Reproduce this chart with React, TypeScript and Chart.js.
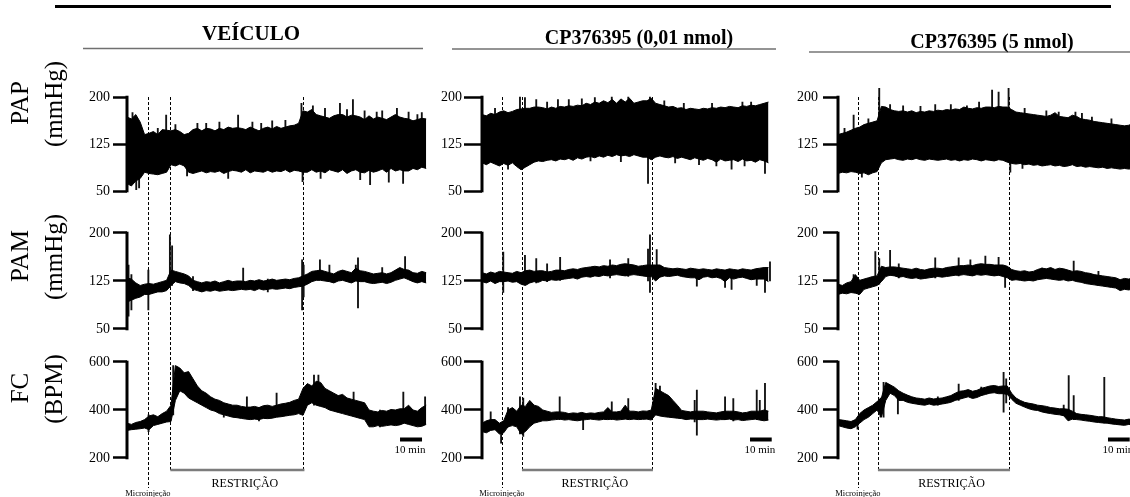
import React, { useEffect, useRef } from "react";
import { Chart, registerables } from "chart.js";

Chart.register(...registerables);

const FONT = '"Liberation Serif", "Times New Roman", Times, serif';

// ---------- data ----------
// sampling times of the envelopes (minutes from start of record)
const SAMPLE_MIN = [0,2,4,6,8,10,12,14,16,18,20,22,24,26,28,30,32,34,36,38,40,42,44,46,48,50,52,54,56,58,60,62,64,66,68,70,72,74,76,78,80,82,84,86,88,90,92,94,96,98,100,102,104,106,108,110,112,114,116,118,120,122,124,126,128,130,132,134,136];

const HEADERS = ["VEÍCULO", "CP376395 (0,01 nmol)", "CP376395 (5 nmol)"];
const ROW_LABELS = [["PAP", "(mmHg)"], ["PAM", "(mmHg)"], ["FC", "(BPM)"]];
const PRESSURE_TICKS = [50, 125, 200];
const FC_TICKS = [200, 400, 600];
const MICROINJECTION_MIN = [9.5, 9.2, 9.2];
const RESTRAINT_START_MIN = [19.7, 18.4, 18.4];
const RESTRAINT_END_MIN = [80.2, 78.3, 78.8];
const SCALE_BAR_START_MIN = [124.1, 123.5, 124.4];
const SCALE_BAR_LENGTH_MIN = 10;
const MICRO_TEXT = "Microinjeção";
const RESTRAINT_TEXT = "RESTRIÇÃO";
const SCALE_TEXT = "10 min";

// VEÍCULO — envelope (upper / lower) and spikes [min, low, high]
const VEH_PAP_HI = [168,165,172,160,140,142,145,140,148,147, 146,148,145,140,142,148,150,146,150,149, 146,150,148,152,150,151,150,148,152,149, 146,150,152,149,153,150,152,154,155,158, 178,176,180,172,170,168,166,170,172,172, 168,171,170,168,164,170,165,168,166,164, 168,172,168,166,165,162,164,166,165];
const VEH_PAP_LO = [62,58,66,70,80,78,77,76,78,80, 92,90,93,90,80,78,80,82,79,81, 80,82,78,81,83,82,80,84,79,82, 81,80,83,80,82,81,84,80,83,82, 80,80,84,80,82,79,84,82,80,84, 78,82,84,80,79,83,80,82,85,80, 86,82,84,82,82,86,84,88,86];
const VEH_PAP_SPIKES = [[2.5,135,175],[4.2,52,90],[5.5,55,88],[14,135,150],[17.8,140,171],[22,145,156],[27.3,74,100],[32,146,158],[36,145,158],[42,146,160],[46,70,82],[50.5,145,171],[57,148,160],[61,145,158],[66,149,162],[72,150,163],[79.3,150,190],[79.8,65,90],[84.5,170,186],[88,70,82],[90,165,182],[96.8,165,190],[100,166,180],[102.7,165,196],[106,68,80],[108,160,178],[110.5,60,85],[113.5,160,176],[116,162,178],[119,64,84],[122.7,160,182],[125.5,62,85],[128,162,176],[132,158,172],[134,162,175]];
const VEH_PAM_HI = [130,128,122,118,120,121,120,122,124,126, 142,140,138,136,133,126,124,122,124,123, 125,122,124,126,124,125,125,124,126,125, 127,125,126,128,126,127,128,127,129,130, 133,136,140,141,142,140,138,136,140,142, 140,138,145,141,140,138,136,137,138,136, 138,142,146,143,142,138,137,140,138];
const VEH_PAM_LO = [92,95,98,100,104,104,106,108,108,110, 118,124,122,121,118,112,110,108,110,109, 111,109,110,111,110,111,112,111,112,110, 113,111,112,113,112,113,114,113,115,116, 117,120,124,126,126,125,124,122,125,126, 124,122,125,124,124,122,121,122,123,121, 123,126,128,130,127,124,122,124,122];
const VEH_PAM_SPIKES = [[0.7,70,150],[2,80,135],[9.7,80,142],[19.5,115,197],[20.5,118,180],[30,110,132],[52.8,118,145],[64,108,128],[79.6,80,158],[80.3,100,150],[87.7,130,158],[92,128,150],[104,130,150],[105,83,161],[116,128,146],[126.4,130,163]];
const VEH_FC_HI = [345,340,348,352,360,375,380,372,385,395, 420,585,575,555,560,530,500,480,470,455, 445,440,430,425,420,420,415,412,412,415, 410,418,420,415,420,425,428,432,440,445, 490,510,500,520,515,490,480,470,460,465, 450,445,440,435,430,400,395,392,398,395, 402,400,405,405,420,400,395,410,420];
const VEH_FC_LO = [315,318,320,322,325,318,335,340,345,350, 352,440,480,470,450,440,430,420,410,400, 395,385,380,375,370,368,365,362,360,362, 360,365,364,366,370,372,375,378,380,385, 378,420,430,420,415,410,400,395,390,385, 380,375,370,365,360,330,330,335,332,335, 338,335,338,345,340,335,330,332,340];
const VEH_FC_SPIKES = [[9.8,310,380],[21,380,585],[44,370,420],[54.5,380,455],[60,355,410],[68,390,470],[85,420,545],[87,420,545],[103,390,475],[115,330,400],[125.6,350,475],[135.5,350,455]];

// CP376395 (0,01 nmol)
const LOW_PAP_HI = [172,170,174,172,176,178,175,177,180,181, 182,182,184,184,183,181,184,182,185,184, 186,185,187,186,190,188,192,190,194,191, 196,190,197,192,198,190,192,194,194,198, 190,188,186,184,185,182,183,180,182,181, 180,182,181,183,182,184,183,185,184,183, 186,185,187,186,188,190,192];
const LOW_PAP_LO = [95,92,96,93,90,94,91,95,89,84, 88,92,96,98,97,99,100,98,101,100, 102,99,103,101,104,105,103,106,104,107, 105,108,106,107,105,108,106,104,104,100, 104,106,104,103,105,102,104,102,100,103, 101,99,102,100,96,101,98,99,100,97, 101,98,99,96,100,98,95];
const LOW_PAP_SPIKES = [[6,170,182],[12,85,95],[17.5,175,200],[19.8,175,199],[25,178,196],[30,180,192],[35,180,196],[40,184,196],[46,183,197],[50,98,106],[52,188,199],[59.8,188,200],[64,97,108],[67.4,190,200],[76.5,62,105],[77.4,190,200],[84,183,194],[89,95,106],[93,180,190],[100,92,103],[106,180,190],[108,90,100],[115,85,100],[120,182,192],[121,90,102],[124,183,192],[130.4,78,100]];
const LOW_PAM_HI = [138,136,139,137,140,139,138,137,140,138, 141,142,140,141,141,139,140,142,142,141, 143,144,143,145,146,147,148,147,149,148, 150,149,151,152,151,150,148,149,150,150, 150,150,146,145,144,145,144,143,145,144, 143,144,143,142,144,143,142,144,143,142, 144,143,142,144,145,146,146];
const LOW_PAM_LO = [124,122,125,121,124,124,125,123,124,120, 118,122,124,123,126,125,127,126,127,128, 129,130,128,131,132,131,133,132,134,133, 134,135,134,133,134,135,134,133,132,132, 125,131,133,132,133,134,132,131,130,130, 127,131,132,130,131,129,124,130,128,130, 131,129,127,128,128,128,124];
const LOW_PAM_SPIKES = [[9.8,107,170],[19.8,120,165],[25,122,160],[30,124,152],[36,126,162],[59,130,158],[67.4,132,160],[76.5,125,175],[77.4,107,197],[80.5,128,174],[99,117,138],[112,115,135],[115,112,135],[126.6,118,140],[130.4,107,135],[132.7,125,155]];
const LOW_FC_HI = [345,355,360,360,345,355,400,410,395,420, 415,440,420,415,400,395,390,392,392,390, 385,388,386,390,385,388,386,390,392,410, 392,392,395,420,395,395,392,396,395,400, 490,480,470,460,440,420,398,395,392,395, 395,395,392,390,388,392,395,395,395,392, 388,390,395,395,395,400,395];
const LOW_FC_LO = [310,305,315,318,300,305,330,335,330,300, 310,330,345,350,355,355,358,360,362,358, 360,357,355,358,360,362,360,358,361,360, 362,358,360,362,360,362,360,361,362,358, 380,375,372,370,368,366,364,360,362,362, 360,360,362,360,358,360,360,362,358,360, 356,358,360,362,358,355,358];
const LOW_FC_SPIKES = [[4,320,392],[8.8,262,330],[12,330,410],[17.5,300,455],[19,290,450],[35.8,360,455],[46.6,318,370],[59.8,360,434],[67.4,360,448],[80,380,511],[82,380,500],[98,350,440],[99,295,483],[112,360,455],[115.8,355,448],[126.6,360,483],[128,360,440],[130.4,360,511]];

// CP376395 (5 nmol)
const HIGH_PAP_HI = [140,142,144,147,150,152,156,158,160,162, 185,184,180,178,177,178,176,178,175,177, 176,178,177,179,178,180,179,181,180,184, 182,181,183,182,184,184,183,185,184,184, 180,176,175,174,173,172,171,170,169,171, 175,169,168,167,171,169,165,164,163,161, 160,159,158,157,156,155,154,155,158];
const HIGH_PAP_LO = [78,80,79,81,80,78,79,76,79,81, 95,100,101,102,100,99,101,100,102,100, 99,101,100,99,100,101,99,100,98,100, 99,101,100,98,100,99,98,100,99,96, 94,93,94,92,93,91,92,90,91,92, 90,91,89,90,92,89,90,88,89,88, 87,88,86,87,86,85,86,85,86];
const HIGH_PAP_SPIKES = [[3,140,150],[7.2,145,171],[11,72,80],[14,155,165],[19,160,217],[24,178,188],[30,175,186],[38,175,185],[44.8,176,188],[52,176,188],[59.4,178,186],[65,178,192],[71,180,211],[74,180,208],[78.6,178,217],[79.4,80,100],[85,86,94],[86,172,182],[96,168,178],[101.7,168,176],[109.4,165,176],[112.4,162,174],[117,160,168],[126,154,165]];
const HIGH_PAM_HI = [120,118,122,124,135,126,128,130,132,133, 148,146,147,147,146,145,144,143,145,143, 142,144,145,145,144,146,147,148,149,149, 150,149,151,152,151,151,150,150,150,148, 143,141,140,141,139,140,143,145,144,146, 143,145,144,142,140,141,140,138,137,135, 134,133,132,131,130,127,129,128,130];
const HIGH_PAM_LO = [104,106,105,107,106,104,112,114,116,118, 124,132,134,133,131,132,130,129,130,128, 129,130,131,132,131,132,133,134,134,135, 134,133,135,134,135,134,133,134,132,130, 126,127,126,125,126,125,127,128,129,128, 127,126,127,125,126,124,123,121,120,119, 118,117,116,115,114,110,112,111,113];
const HIGH_PAM_SPIKES = [[7.2,110,135],[17.2,118,171],[19,120,160],[24,134,173],[28,130,152],[44.8,130,161],[55.6,133,161],[61,134,158],[67.9,135,164],[74,134,162],[77,115,140],[94,130,145],[108.6,128,156],[120,118,140]];
const HIGH_FC_HI = [360,358,355,352,360,385,400,410,420,435, 450,515,505,495,480,470,462,455,450,448, 445,450,446,448,450,455,460,470,478,480, 485,478,482,490,495,500,502,498,500,500, 470,450,440,432,428,425,420,418,415,410, 408,405,405,403,395,385,382,380,378,375, 372,372,368,365,362,360,358,362,360];
const HIGH_FC_LO = [335,330,325,322,330,345,360,370,385,400, 370,440,470,460,440,440,432,428,425,422, 420,425,420,422,425,428,432,440,445,450, 455,448,452,460,465,470,472,468,468,465, 445,428,420,412,405,400,398,392,388,385, 382,380,376,355,362,360,358,355,353,350, 348,346,345,342,340,338,336,340,338];
const HIGH_FC_SPIKES = [[9,320,360],[19.6,370,450],[21,370,515],[27.6,384,460],[46,420,455],[55.6,440,508],[66,460,495],[76.3,391,557],[77.5,430,530],[104,376,420],[106.3,360,543],[108.6,360,460],[122.7,346,536]];

const SERIES: any[] = [
  [[VEH_PAP_HI, VEH_PAP_LO, VEH_PAP_SPIKES], [VEH_PAM_HI, VEH_PAM_LO, VEH_PAM_SPIKES], [VEH_FC_HI, VEH_FC_LO, VEH_FC_SPIKES]],
  [[LOW_PAP_HI, LOW_PAP_LO, LOW_PAP_SPIKES], [LOW_PAM_HI, LOW_PAM_LO, LOW_PAM_SPIKES], [LOW_FC_HI, LOW_FC_LO, LOW_FC_SPIKES]],
  [[HIGH_PAP_HI, HIGH_PAP_LO, HIGH_PAP_SPIKES], [HIGH_PAM_HI, HIGH_PAM_LO, HIGH_PAM_SPIKES], [HIGH_FC_HI, HIGH_FC_LO, HIGH_FC_SPIKES]],
];

// ---------- layout ----------
const H = 497;
const PAD_TOP = 88;
const PAD_BOTTOM = 27;
const BRACKET_Y = 470;
const MICRO_LINE_BOTTOM = 488;

const ROWS = [
  { id: "yPAP", min: 16.5, max: 214.4, stackWeight: 124, weight: 3, ticks: PRESSURE_TICKS, labelY: 103 },
  { id: "yPAM", min: 25, max: 232.8, stackWeight: 133, weight: 2, ticks: PRESSURE_TICKS, labelY: 256 },
  { id: "yFC", min: 150, max: 670.8, stackWeight: 125, weight: 1, ticks: FC_TICKS, labelY: 388 },
];

const COLS = [
  { left: 0, width: 440, axisW: 127, padR: 9.4, xMax: 138, tickLen: 14, tickPad: 3,
    head: { cx: 251, base: 40, size: 21, x1: 83, x2: 423, y: 48.5, color: "#707070", lw: 1.5 } },
  { left: 440, width: 345, axisW: 42, padR: 12.2, xMax: 134, tickLen: 18, tickPad: 2,
    head: { cx: 199, base: 44, size: 20, x1: 12, x2: 336, y: 49, color: "#707070", lw: 1.5 } },
  { left: 785, width: 360, axisW: 53, padR: 7.5, xMax: 138, tickLen: 15, tickPad: 5,
    head: { cx: 207, base: 48, size: 20, x1: 24, x2: 360, y: 52, color: "#333333", lw: 1.2 } },
];

function makeDecor(ci: number) {
  const c = COLS[ci];
  return {
    id: "decor" + ci,
    beforeDatasetsDraw(chart: any) {
      const { ctx, scales } = chart;
      const x = scales.x;
      const yTop = scales.yPAP.getPixelForValue(PRESSURE_TICKS[PRESSURE_TICKS.length - 1]);
      const lines = [
        [MICROINJECTION_MIN[ci], MICRO_LINE_BOTTOM],
        [RESTRAINT_START_MIN[ci], BRACKET_Y],
        [RESTRAINT_END_MIN[ci], BRACKET_Y],
      ];
      ctx.save();
      ctx.strokeStyle = "#000";
      ctx.lineWidth = 1;
      ctx.setLineDash([3, 2]);
      for (const [t, yb] of lines) {
        const px = Math.round(x.getPixelForValue(t)) + 0.5;
        ctx.beginPath();
        ctx.moveTo(px, yTop);
        ctx.lineTo(px, yb);
        ctx.stroke();
      }
      ctx.restore();
    },
    afterDatasetsDraw(chart: any) {
      const { ctx, chartArea, scales } = chart;
      ctx.save();
      ctx.strokeStyle = "#000";
      ctx.lineWidth = 3;
      for (const r of ROWS) {
        const s = scales[r.id];
        const top = s.getPixelForValue(r.ticks[r.ticks.length - 1]);
        const bot = s.getPixelForValue(r.ticks[0]);
        ctx.beginPath();
        ctx.moveTo(chartArea.left, top - 1.3);
        ctx.lineTo(chartArea.left, bot + 1.3);
        ctx.stroke();
      }
      ctx.restore();
    },
    afterDraw(chart: any) {
      const { ctx, scales } = chart;
      const x = scales.x;
      ctx.save();
      ctx.fillStyle = "#000";
      ctx.font = `bold ${c.head.size}px ${FONT}`;
      ctx.textAlign = "center";
      ctx.textBaseline = "alphabetic";
      ctx.fillText(HEADERS[ci], c.head.cx, c.head.base);
      ctx.strokeStyle = c.head.color;
      ctx.lineWidth = c.head.lw;
      ctx.beginPath();
      ctx.moveTo(c.head.x1, c.head.y);
      ctx.lineTo(c.head.x2, c.head.y);
      ctx.stroke();

      if (ci === 0) {
        ctx.font = `25px ${FONT}`;
        ctx.textAlign = "center";
        ctx.textBaseline = "middle";
        ROWS.forEach((r, ri) => {
          const [a, b] = ROW_LABELS[ri];
          ctx.save();
          ctx.translate(21, r.labelY);
          ctx.rotate(-Math.PI / 2);
          ctx.fillText(a, 0, 0);
          ctx.restore();
          ctx.save();
          ctx.translate(55, r.labelY + 1);
          ctx.rotate(-Math.PI / 2);
          ctx.fillText(b, 0, 0);
          ctx.restore();
        });
      }

      const xs = x.getPixelForValue(RESTRAINT_START_MIN[ci]);
      const xe = x.getPixelForValue(RESTRAINT_END_MIN[ci]);
      ctx.strokeStyle = "#7c7c7c";
      ctx.lineWidth = 2.5;
      ctx.beginPath();
      ctx.moveTo(xs, BRACKET_Y);
      ctx.lineTo(xe + 1, BRACKET_Y);
      ctx.stroke();
      ctx.fillStyle = "#000";
      ctx.font = `12px ${FONT}`;
      ctx.textAlign = "center";
      ctx.textBaseline = "alphabetic";
      ctx.fillText(RESTRAINT_TEXT, (xs + xe) / 2 + 8, 487);

      const xm = x.getPixelForValue(MICROINJECTION_MIN[ci]);
      ctx.font = `8.5px ${FONT}`;
      ctx.fillText(MICRO_TEXT, xm, 496);

      const b0 = x.getPixelForValue(SCALE_BAR_START_MIN[ci]);
      const b1 = x.getPixelForValue(SCALE_BAR_START_MIN[ci] + SCALE_BAR_LENGTH_MIN);
      ctx.fillRect(b0, 437.5, b1 - b0, 4);
      ctx.font = `11px ${FONT}`;
      ctx.fillText(SCALE_TEXT, (b0 + b1) / 2 - 1, 453);
      ctx.restore();
    },
  };
}

function bandDatasets(hi: number[], lo: number[], yAxisID: string) {
  const times = SAMPLE_MIN.slice(0, hi.length);
  return [
    {
      type: "line",
      data: times.map((t, i) => ({ x: t, y: lo[i] })),
      yAxisID, xAxisID: "x",
      borderColor: "#000", borderWidth: 1, pointRadius: 0, tension: 0, fill: false,
    },
    {
      type: "line",
      data: times.map((t, i) => ({ x: t, y: hi[i] })),
      yAxisID, xAxisID: "x",
      borderColor: "#000", borderWidth: 1, pointRadius: 0, tension: 0,
      fill: "-1", backgroundColor: "#000",
    },
  ];
}

function spikeDataset(spikes: number[][], yAxisID: string) {
  return {
    type: "bar",
    data: spikes.map(([t, lo, hi]) => ({ x: t, y: [lo, hi] })),
    yAxisID, xAxisID: "x",
    backgroundColor: "#111",
    borderWidth: 0,
    barThickness: 1.2,
    grouped: false,
  };
}

function buildConfig(ci: number): any {
  const c = COLS[ci];
  const datasets: any[] = [];
  ROWS.forEach((r, ri) => {
    const [hi, lo] = SERIES[ci][ri];
    datasets.push(...bandDatasets(hi, lo, r.id));
  });
  ROWS.forEach((r, ri) => {
    datasets.push(spikeDataset(SERIES[ci][ri][2], r.id));
  });
  const scales: any = {
    x: { type: "linear", min: 0, max: c.xMax, display: false, offset: false, grid: { offset: false } },
  };
  ROWS.forEach((r) => {
    scales[r.id] = {
      type: "linear",
      position: "left",
      stack: "rows",
      stackWeight: r.stackWeight,
      weight: r.weight,
      min: r.min,
      max: r.max,
      beginAtZero: false,
      afterBuildTicks: (s: any) => {
        s.ticks = r.ticks.map((v) => ({ value: v }));
      },
      afterFit: (s: any) => {
        s.width = c.axisW;
      },
      grid: {
        display: true,
        drawOnChartArea: false,
        drawTicks: true,
        tickLength: c.tickLen,
        tickWidth: 2.5,
        tickColor: "#000",
      },
      border: { display: false },
      ticks: {
        color: "#000",
        font: { family: FONT, size: 14 },
        padding: c.tickPad,
        autoSkip: false,
        maxRotation: 0,
        minRotation: 0,
      },
    };
  });
  return {
    type: "line",
    data: { datasets },
    options: {
      animation: false,
      responsive: false,
      maintainAspectRatio: false,
      events: [],
      layout: { padding: { top: PAD_TOP, bottom: PAD_BOTTOM, left: 0, right: c.padR } },
      plugins: { legend: { display: false }, tooltip: { enabled: false } },
      scales,
    },
    plugins: [makeDecor(ci)],
  };
}

export default function App() {
  const refs = useRef<(HTMLCanvasElement | null)[]>([]);
  useEffect(() => {
    Chart.defaults.font.family = FONT;
    const charts = COLS.map((_, ci) => {
      const el = refs.current[ci];
      return el ? new Chart(el, buildConfig(ci)) : null;
    });
    return () => {
      charts.forEach((ch) => ch && ch.destroy());
    };
  }, []);

  return (
    <div
      style={{
        position: "absolute",
        left: 0,
        top: 0,
        width: 1130,
        height: H,
        overflow: "hidden",
        background: "#fff",
      }}
    >
      <div
        style={{
          position: "absolute",
          left: 55,
          top: 5,
          width: 1056,
          height: 3,
          background: "#000",
        }}
      />
      {COLS.map((c, ci) => (
        <canvas
          key={ci}
          ref={(el) => {
            refs.current[ci] = el;
          }}
          width={c.width}
          height={H}
          style={{ position: "absolute", left: c.left, top: 0, width: c.width, height: H }}
        />
      ))}
    </div>
  );
}
